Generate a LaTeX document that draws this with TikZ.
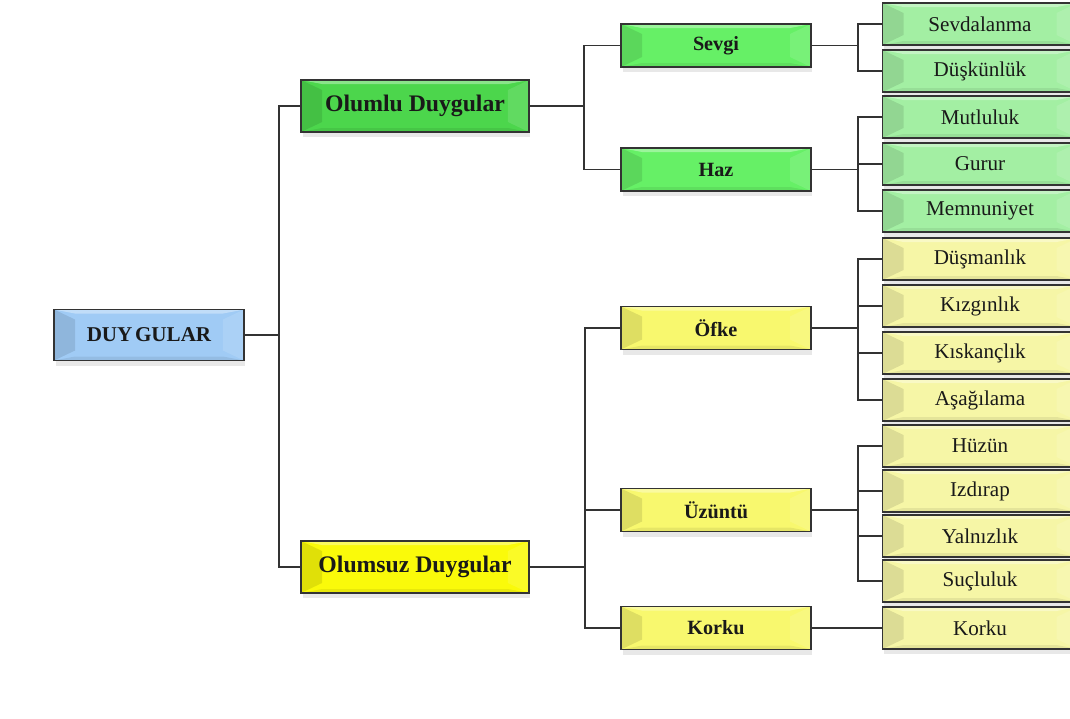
\documentclass[tikz,border=0pt]{standalone}
\usepackage{fontspec}
\setmainfont{Liberation Serif}
\usetikzlibrary{shadows}

\definecolor{rootblue}{HTML}{A0CBF5}
\definecolor{maingreen}{HTML}{4CD64C}
\definecolor{subgreen}{HTML}{66F066}
\definecolor{leafgreen}{HTML}{A3EFA3}
\definecolor{mainyellow}{HTML}{FAFA0A}
\definecolor{subyellow}{HTML}{F8F86E}
\definecolor{leafyellow}{HTML}{F6F6A6}
\definecolor{linegray}{HTML}{333333}

\tikzset{
  bevel/.style={path picture={
    \fill[white,opacity=0.35] (path picture bounding box.north west) -- (path picture bounding box.north east)
      -- ([xshift=-0.42cm,yshift=-0.08cm]path picture bounding box.north east)
      -- ([xshift=0.42cm,yshift=-0.08cm]path picture bounding box.north west) -- cycle;
    \fill[black,opacity=0.07] (path picture bounding box.south west) -- (path picture bounding box.south east)
      -- ([xshift=-0.42cm,yshift=0.08cm]path picture bounding box.south east)
      -- ([xshift=0.42cm,yshift=0.08cm]path picture bounding box.south west) -- cycle;
    \fill[black,opacity=0.10] (path picture bounding box.north west) -- (path picture bounding box.south west)
      -- ([xshift=0.42cm,yshift=0.2cm]path picture bounding box.south west)
      -- ([xshift=0.42cm,yshift=-0.2cm]path picture bounding box.north west) -- cycle;
    \fill[white,opacity=0.12] (path picture bounding box.north east) -- (path picture bounding box.south east)
      -- ([xshift=-0.42cm,yshift=0.2cm]path picture bounding box.south east)
      -- ([xshift=-0.42cm,yshift=-0.2cm]path picture bounding box.north east) -- cycle;
  }}
}

\begin{document}
\begin{tikzpicture}[x=0.02cm,y=-0.02cm]
\tikzstyle{kutu}=[rectangle,draw=linegray,line width=1pt,text=black!90,inner sep=0pt,bevel,
  drop shadow={shadow xshift=0.03cm,shadow yshift=-0.1cm,opacity=0.18}]
\tikzstyle{rootbox}=[kutu,fill=rootblue,minimum width=3.8cm,minimum height=1.02cm,font=\fontsize{12}{14}\selectfont\bfseries]
\tikzstyle{mainbox}=[kutu,minimum width=4.56cm,minimum height=1.04cm,font=\fontsize{13.5}{16}\selectfont\bfseries]
\tikzstyle{subbox}=[kutu,minimum width=3.8cm,minimum height=0.86cm,font=\fontsize{11.5}{14}\selectfont\bfseries]
\tikzstyle{leafbox}=[kutu,minimum width=3.9cm,minimum height=0.84cm,font=\fontsize{12}{14}\selectfont]
\tikzstyle{baglanti}=[draw=linegray,line width=1pt]

\useasboundingbox (0,0) rectangle (1070,718);

% kok
\node [rootbox] (duygular) at (149,335) {DUY\hspace{1.5pt}GULAR};

% ana gruplar
\node [mainbox,fill=maingreen] (olumlu) at (415,106) {Olumlu Duygular};
\node [mainbox,fill=mainyellow] (olumsuz) at (415,567) {Olumsuz Duygular};

% alt gruplar
\node [subbox,fill=subgreen] (sevgi) at (716,45.5) {Sevgi};
\node [subbox,fill=subgreen] (haz) at (716,169.5) {Haz};
\node [subbox,fill=subyellow] (ofke) at (716,328) {Öfke};
\node [subbox,fill=subyellow] (uzuntu) at (716,510) {Üzüntü};
\node [subbox,fill=subyellow] (korku) at (716,628) {Korku};

% yapraklar
\node [leafbox,fill=leafgreen] (sevdalanma) at (980,24) {Sevdalanma};
\node [leafbox,fill=leafgreen] (duskunluk) at (980,71) {Düşkünlük};
\node [leafbox,fill=leafgreen] (mutluluk) at (980,117) {Mutluluk};
\node [leafbox,fill=leafgreen] (gurur) at (980,164) {Gurur};
\node [leafbox,fill=leafgreen] (memnuniyet) at (980,211) {Memnuniyet};
\node [leafbox,fill=leafyellow] (dusmanlik) at (980,259) {Düşmanlık};
\node [leafbox,fill=leafyellow] (kizginlik) at (980,306) {Kızgınlık};
\node [leafbox,fill=leafyellow] (kiskanclik) at (980,353) {Kıskançlık};
\node [leafbox,fill=leafyellow] (asagilama) at (980,400) {Aşağılama};
\node [leafbox,fill=leafyellow] (huzun) at (980,446) {Hüzün};
\node [leafbox,fill=leafyellow] (izdirap) at (980,491) {Izdırap};
\node [leafbox,fill=leafyellow] (yalnizlik) at (980,536) {Yalnızlık};
\node [leafbox,fill=leafyellow] (sucluluk) at (980,581) {Suçluluk};
\node [leafbox,fill=leafyellow] (korkuyaprak) at (980,628) {Korku};

% baglantilar
\draw [baglanti] (duygular.east) -- ++(34,0) |- (olumlu.west);
\draw [baglanti] (duygular.east) -- ++(34,0) |- (olumsuz.west);

\draw [baglanti] (olumlu.east) -- ++(54,0) |- (sevgi.west);
\draw [baglanti] (olumlu.east) -- ++(54,0) |- (haz.west);
\draw [baglanti] (olumsuz.east) -- ++(55,0) |- (ofke.west);
\draw [baglanti] (olumsuz.east) -- ++(55,0) |- (uzuntu.west);
\draw [baglanti] (olumsuz.east) -- ++(55,0) |- (korku.west);

\draw [baglanti] (sevgi.east) -- ++(46,0) |- (sevdalanma.west);
\draw [baglanti] (sevgi.east) -- ++(46,0) |- (duskunluk.west);
\draw [baglanti] (haz.east) -- ++(46,0) |- (mutluluk.west);
\draw [baglanti] (haz.east) -- ++(46,0) |- (gurur.west);
\draw [baglanti] (haz.east) -- ++(46,0) |- (memnuniyet.west);
\draw [baglanti] (ofke.east) -- ++(46,0) |- (dusmanlik.west);
\draw [baglanti] (ofke.east) -- ++(46,0) |- (kizginlik.west);
\draw [baglanti] (ofke.east) -- ++(46,0) |- (kiskanclik.west);
\draw [baglanti] (ofke.east) -- ++(46,0) |- (asagilama.west);
\draw [baglanti] (uzuntu.east) -- ++(46,0) |- (huzun.west);
\draw [baglanti] (uzuntu.east) -- ++(46,0) |- (izdirap.west);
\draw [baglanti] (uzuntu.east) -- ++(46,0) |- (yalnizlik.west);
\draw [baglanti] (uzuntu.east) -- ++(46,0) |- (sucluluk.west);
\draw [baglanti] (korku.east) -- (korkuyaprak.west);
\end{tikzpicture}
\end{document}
